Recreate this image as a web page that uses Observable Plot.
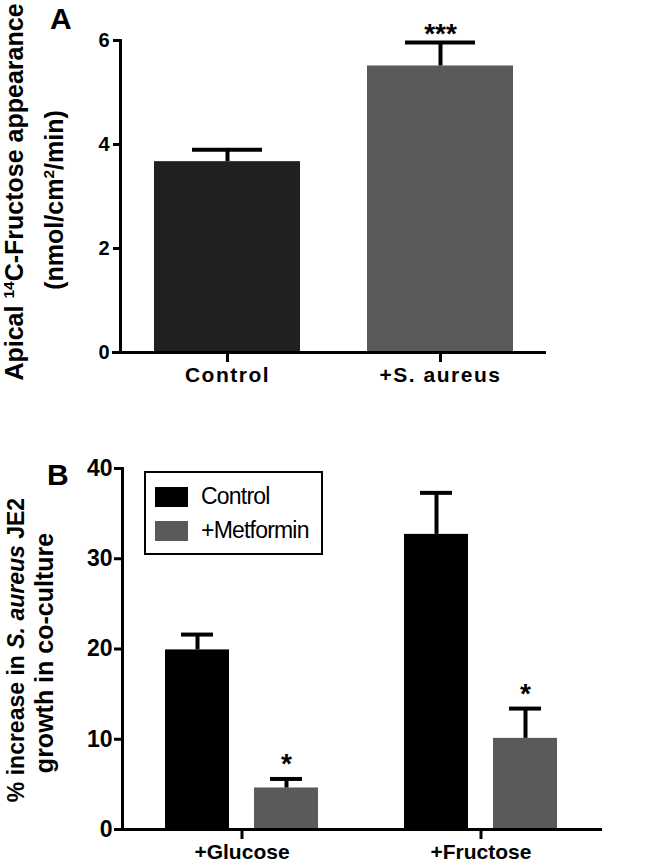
<!DOCTYPE html>
<html><head><meta charset="utf-8">
<script src="https://cdn.jsdelivr.net/npm/d3@7"></script>
<script src="https://cdn.jsdelivr.net/npm/@observablehq/plot@0.6"></script>
<style>
body{margin:0;background:#fff;font-family:"Liberation Sans",Arial,sans-serif;}
#fig{position:relative;width:657px;height:865px;overflow:hidden;background:#fff;}
.panel{position:absolute;left:0;}
.lbl{position:absolute;font-weight:bold;line-height:1;color:#000;}
.ytitle{position:absolute;font-weight:bold;white-space:nowrap;line-height:1;color:#000;transform:translate(-50%,-50%) rotate(-90deg);}
.ytitle sup{font-size:0.62em;line-height:0;vertical-align:0.55em;}
#legendB{position:absolute;box-sizing:border-box;border:2px solid #000;background:#fff;}
#legendB .item{position:absolute;left:9px;display:flex;align-items:center;}
#legendB .sw{width:33px;height:20px;margin-right:13px;}
#legendB .tx{font-size:23px;letter-spacing:-0.8px;line-height:1;color:#000;}
.xlabA text{letter-spacing:1.5px;}
</style></head><body><div id="fig"></div>
<script>
// ---- Panel A data ----
const groupsA = ["Control", "+S. aureus"];
const meansA = [3.67, 5.51];
const semA = [0.23, 0.45];
const colorsA = ["#202020", "#5a5a5a"];
const starsA = ["", "***"];
const ticksA = [0, 2, 4, 6];

// ---- Panel B data ----
const groupsB = ["+Glucose", "+Fructose"];
const seriesB = ["Control", "+Metformin"];
const controlB = [19.9, 32.7];
const controlErrB = [1.7, 4.6];
const metforminB = [4.6, 10.1];
const metforminErrB = [1.0, 3.3];
const colorsB = ["#000000", "#5a5a5a"];
const starsB = ["*", "*"];
const ticksB = [0, 10, 20, 30, 40];

const fig = document.getElementById("fig");
const font = "Liberation Sans, Arial, sans-serif";

const dataA = groupsA.map((g, i) => ({group: g, mean: meansA[i], sem: semA[i], star: starsA[i]}));
const dataB = [];
groupsB.forEach((g, i) => {
  dataB.push({group: g, series: seriesB[0], mean: controlB[i], sem: controlErrB[i], star: ""});
  dataB.push({group: g, series: seriesB[1], mean: metforminB[i], sem: metforminErrB[i], star: starsB[i]});
});

const plotA = Plot.plot({
  width: 657, height: 400,
  marginLeft: 120, marginRight: 111, marginTop: 40, marginBottom: 48,
  style: {fontFamily: font, color: "#000", background: "transparent", overflow: "visible"},
  x: {domain: groupsA, paddingInner: 0.315, paddingOuter: 0.157, label: null},
  y: {domain: [0, 6], label: null},
  color: {domain: groupsA, range: colorsA},
  marks: [
    Plot.barY(dataA, {x: "group", y: "mean", fill: "group"}),
    Plot.ruleX(dataA, {x: "group", y1: "mean", y2: d => d.mean + d.sem, stroke: "#000", strokeWidth: 4}),
    Plot.tickY(dataA, {x: "group", y: d => d.mean + d.sem, stroke: "#000", strokeWidth: 4, insetLeft: 38, insetRight: 38}),
    Plot.text(dataA, {x: "group", y: d => d.mean + d.sem, text: "star", dy: -9, fontSize: 28, fontWeight: "bold", fill: "#000"}),
    Plot.ruleY([0], {stroke: "#000", strokeWidth: 3, insetLeft: -8}),
    Plot.frame({anchor: "left", stroke: "#000", strokeWidth: 3}),
    Plot.axisY({ticks: ticksA, tickFormat: d => String(d), tickSize: 7, strokeWidth: 3, tickPadding: 4, fontSize: 20, fontWeight: "bold", label: null}),
    Plot.axisX({tickSize: 10, strokeWidth: 3, tickPadding: 5, fontSize: 21, fontWeight: "bold", label: null, className: "xlabA"})
  ]
});
plotA.classList.add("panel");
plotA.style.top = "0px";
fig.appendChild(plotA);

const plotB = Plot.plot({
  width: 657, height: 465,
  marginLeft: 122, marginRight: 57, marginTop: 68, marginBottom: 36,
  style: {fontFamily: font, color: "#000", background: "transparent", overflow: "visible"},
  fx: {domain: groupsB, padding: 0, label: null},
  x: {domain: seriesB, paddingInner: 0.281, paddingOuter: 0.483, label: null},
  y: {domain: [0, 40], label: null},
  color: {domain: seriesB, range: colorsB},
  marks: [
    Plot.barY(dataB, {fx: "group", x: "series", y: "mean", fill: "series"}),
    Plot.ruleX(dataB, {fx: "group", x: "series", y1: "mean", y2: d => d.mean + d.sem, stroke: "#000", strokeWidth: 4}),
    Plot.tickY(dataB, {fx: "group", x: "series", y: d => d.mean + d.sem, stroke: "#000", strokeWidth: 4, insetLeft: 16, insetRight: 16}),
    Plot.text(dataB, {fx: "group", x: "series", y: d => d.mean + d.sem, text: "star", dy: -15, fontSize: 28, fontWeight: "bold", fill: "#000"}),
    Plot.ruleY([0], {stroke: "#000", strokeWidth: 3, insetLeft: -5, insetRight: -2}),
    Plot.frame({anchor: "left", facetAnchor: "left", stroke: "#000", strokeWidth: 3}),
    Plot.axisY({ticks: ticksB, tickSize: 8, strokeWidth: 3, tickPadding: 2, fontSize: 23, fontWeight: "bold", label: null}),
    Plot.axisFx({anchor: "bottom", tickSize: 10, strokeWidth: 3, tickPadding: 5, fontSize: 21, fontWeight: "bold", label: null}),
    Plot.axisX({ticks: [], label: null})
  ]
});
plotB.classList.add("panel");
plotB.style.top = "400px";
fig.appendChild(plotB);

// Panel letters
function addDiv(cls, html, css) {
  const d = document.createElement("div");
  d.className = cls;
  d.innerHTML = html;
  Object.assign(d.style, css);
  fig.appendChild(d);
  return d;
}
addDiv("lbl", "A", {left: "50px", top: "4px", fontSize: "30px"});
addDiv("lbl", "B", {left: "47px", top: "460px", fontSize: "30px"});

// Y axis titles
addDiv("ytitle", "Apical <sup>14</sup>C-Fructose appearance", {left: "14px", top: "192px", fontSize: "25px"});
addDiv("ytitle", "(nmol/cm<sup>2</sup>/min)", {left: "54px", top: "200px", fontSize: "25px"});
addDiv("ytitle", "% increase in <i>S. aureus</i> JE2", {left: "16px", top: "650px", fontSize: "23px"});
addDiv("ytitle", "growth in co-culture", {left: "44px", top: "653px", fontSize: "25px"});

// Legend for panel B
const leg = addDiv("", "", {left: "144px", top: "471px", width: "179px", height: "84px"});
leg.id = "legendB";
seriesB.forEach((s, i) => {
  const it = document.createElement("div");
  it.className = "item";
  it.style.top = (12 + i * 34) + "px";
  it.innerHTML = `<div class="sw" style="background:${colorsB[i]}"></div><div class="tx">${s}</div>`;
  leg.appendChild(it);
});
</script></body></html>
